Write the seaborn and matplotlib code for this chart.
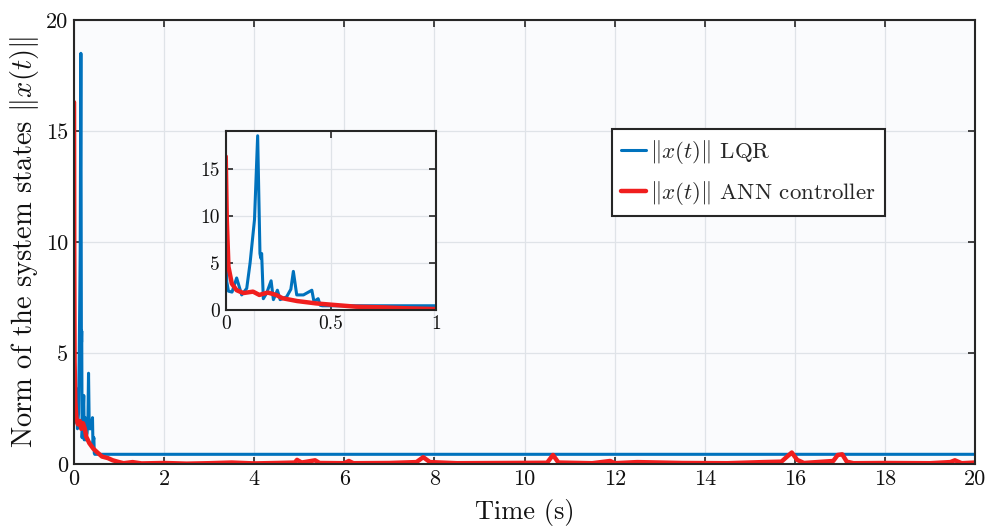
import matplotlib
matplotlib.use("Agg")
import matplotlib.pyplot as plt
import seaborn as sns
import pandas as pd

# ---- data ----
t_lqr = [0.0, 0.005, 0.013, 0.03, 0.052, 0.076, 0.10, 0.116, 0.137, 0.152, 0.163, 0.167, 0.171,
         0.179, 0.195, 0.216, 0.227, 0.246, 0.259, 0.29, 0.31, 0.322, 0.338, 0.37, 0.41, 0.42,
         0.44, 0.45, 0.46, 1.0, 20.0]
x_lqr = [6.5, 3.0, 2.0, 1.9, 3.4, 1.6, 2.3, 5.0, 9.6, 18.5, 6.0, 5.5, 6.0,
         1.2, 1.8, 3.1, 1.1, 2.1, 1.1, 1.4, 2.2, 4.1, 1.6, 1.6, 2.1, 0.9,
         1.2, 0.5, 0.45, 0.45, 0.45]

t_ann = [0.0, 0.005, 0.013, 0.029, 0.052, 0.084, 0.13, 0.16, 0.20, 0.24, 0.27, 0.34, 0.43,
         0.51, 0.62, 0.75, 0.86, 1.0, 1.1, 1.3, 1.5, 2.0, 2.5, 3.0, 3.5, 4.0, 4.5, 4.9,
         4.95, 5.05, 5.35, 5.45, 6.0, 6.1, 6.2, 7.0, 7.6, 7.75, 7.9, 8.5, 9.5, 10.5, 10.63,
         10.75, 11.5, 11.9, 12.0, 12.5, 13.5, 14.5, 15.3, 15.7, 15.8, 15.93, 16.05, 16.2,
         16.85, 16.95, 17.05, 17.15, 17.3, 18.0, 19.0, 19.45, 19.55, 19.7, 20.0]
x_ann = [16.3, 9.6, 4.6, 2.8, 2.1, 1.8, 1.95, 1.6, 1.85, 1.6, 1.25, 0.95, 0.7,
         0.55, 0.35, 0.28, 0.18, 0.1, 0.05, 0.1, 0.04, 0.06, 0.03, 0.05, 0.08, 0.04, 0.06, 0.08,
         0.2, 0.08, 0.18, 0.06, 0.05, 0.15, 0.05, 0.06, 0.1, 0.32, 0.1, 0.05, 0.06, 0.07, 0.42,
         0.08, 0.05, 0.15, 0.05, 0.1, 0.06, 0.05, 0.1, 0.12, 0.3, 0.53, 0.2, 0.06,
         0.15, 0.42, 0.45, 0.12, 0.05, 0.06, 0.05, 0.1, 0.18, 0.05, 0.08]

x_ticks = [0, 2, 4, 6, 8, 10, 12, 14, 16, 18, 20]
y_ticks = [0, 5, 10, 15, 20]
inset_x_ticks = [0, 0.5, 1]
inset_y_ticks = [0, 5, 10, 15]

label_lqr = r"$\|x(t)\|$ LQR"
label_ann = r"$\|x(t)\|$ ANN controller"

df_lqr = pd.DataFrame({"t": t_lqr, "x": x_lqr})
df_ann = pd.DataFrame({"t": t_ann, "x": x_ann})

BLUE = "#0072BD"
RED = "#F01E1E"
SPINE = "#262626"

sns.set_theme(style="ticks")
plt.rcParams.update({
    "font.family": "serif",
    "font.serif": ["cmr10"],
    "mathtext.fontset": "cm",
    "axes.formatter.use_mathtext": True,
    "axes.unicode_minus": False,
})

fig = plt.figure(figsize=(9.87, 5.31), dpi=100)
fig.patch.set_facecolor("white")


def style_axes(ax, fs):
    ax.set_facecolor("#fafbfd")
    ax.grid(True, color="#dfe3e8", linewidth=0.9)
    ax.set_axisbelow(True)
    for s in ax.spines.values():
        s.set_visible(True)
        s.set_color(SPINE)
        s.set_linewidth(1.5)
    ax.tick_params(direction="in", top=True, right=True, length=5, width=1.2,
                   colors=SPINE, labelsize=fs, labelcolor="#111111", pad=4)


ax = fig.add_axes([0.075, 0.1256, 0.913, 0.8367])
style_axes(ax, 16)
sns.lineplot(data=df_lqr, x="t", y="x", ax=ax, color=BLUE, linewidth=2.2, label=label_lqr)
sns.lineplot(data=df_ann, x="t", y="x", ax=ax, color=RED, linewidth=3.2, label=label_ann)
ax.set_xlim(0, 20)
ax.set_ylim(0, 20)
ax.set_xticks(x_ticks)
ax.set_yticks(y_ticks)
ax.set_xticklabels([str(v) for v in x_ticks])
ax.set_yticklabels([str(v) for v in y_ticks])
ax.set_xlabel("Time (s)", fontsize=19, color="#111111", labelpad=7)
ax.set_ylabel(r"Norm of the system states $\|x(t)\|$", fontsize=20.5, color="#111111", labelpad=4)

leg = ax.legend(loc="upper left", bbox_to_anchor=(0.597, 0.755), fontsize=16.5,
                frameon=True, fancybox=False, edgecolor=SPINE, facecolor="white",
                framealpha=1, handlelength=1.1, handletextpad=0.15, borderpad=0.4,
                labelspacing=0.55, borderaxespad=0)
leg.get_frame().set_linewidth(1.5)

axin = fig.add_axes([0.2287, 0.4162, 0.2128, 0.337])
style_axes(axin, 14)
sns.lineplot(data=df_lqr, x="t", y="x", ax=axin, color=BLUE, linewidth=2.2, legend=False)
sns.lineplot(data=df_ann, x="t", y="x", ax=axin, color=RED, linewidth=3.2, legend=False)
axin.set_xlim(0, 1)
axin.set_ylim(0, 19)
axin.set_xticks(inset_x_ticks)
axin.set_yticks(inset_y_ticks)
axin.set_xticklabels([str(v) for v in inset_x_ticks])
axin.set_yticklabels([str(v) for v in inset_y_ticks])
axin.set_xlabel("")
axin.set_ylabel("")

fig.savefig("out.png", dpi=100, facecolor="white")
